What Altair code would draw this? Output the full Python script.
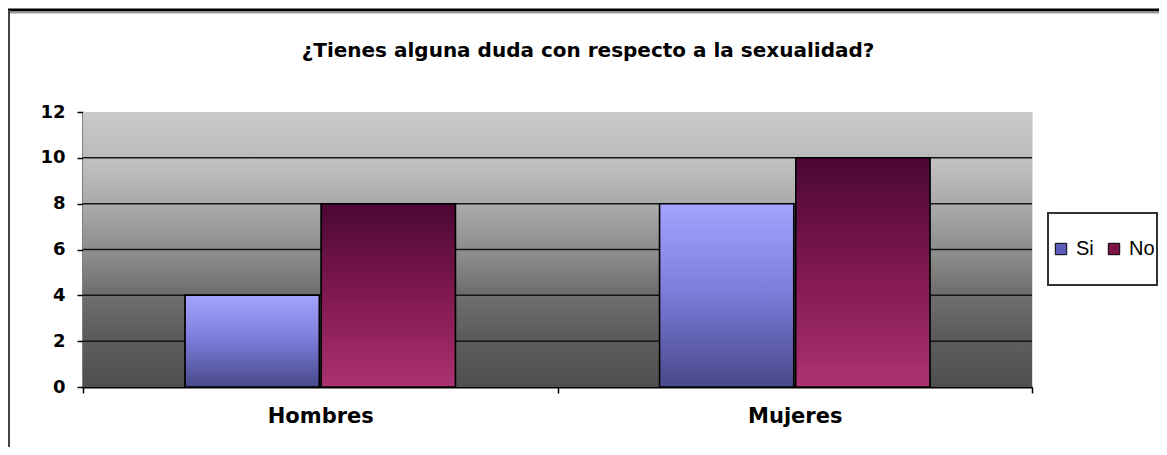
import altair as alt
import pandas as pd

# ---- data ----
grupos = ["Hombres", "Mujeres"]
series = ["Si", "No"]
si_vals = [4, 8]
no_vals = [8, 10]
y_ticks = [0, 2, 4, 6, 8, 10, 12]
grid_vals = [2, 4, 6, 8, 10]
titulo = "¿Tienes alguna duda con respecto a la sexualidad?"

rows = []
for g, s, n in zip(grupos, si_vals, no_vals):
    rows.append({"grupo": g, "serie": "Si", "valor": s})
    rows.append({"grupo": g, "serie": "No", "valor": n})
df = pd.DataFrame(rows)
bg_df = pd.DataFrame({"ymin": [min(y_ticks)], "ymax": [max(y_ticks)]})
grid_df = pd.DataFrame({"g": grid_vals})
one = pd.DataFrame({"k": [0]})
title_df = pd.DataFrame({"t": [titulo]})

W, H = 949, 275

y_scale = alt.Scale(domain=[min(y_ticks), max(y_ticks)], nice=False)
x_scale = alt.Scale(domain=grupos, paddingInner=0, paddingOuter=0)
xo_scale = alt.Scale(domain=series, paddingInner=0.015, paddingOuter=0.75)

x_axis = alt.Axis(title=None, labelFont="DejaVu Sans", labelFontWeight="bold",
                  labelFontSize=21, labelColor="black", labelAngle=0,
                  tickBand="extent", tickSize=6, tickColor="black", tickWidth=1.5,
                  domainColor="black", domainWidth=2, labelPadding=12, grid=False)
y_axis = alt.Axis(title=None, values=y_ticks, labelFont="DejaVu Sans",
                  labelFontWeight="bold", labelFontSize=18, labelColor="black",
                  tickSize=6, tickColor="black", tickWidth=1.5, domainColor="black",
                  domainWidth=2, labelPadding=12, grid=False)

bg_grad = alt.Gradient(
    gradient="linear", x1=0, y1=0, x2=0, y2=1,
    stops=[
        alt.GradientStop(offset=0.0, color="#cacaca"),
        alt.GradientStop(offset=0.165, color="#bababa"),
        alt.GradientStop(offset=0.17, color="#c2c2c2"),
        alt.GradientStop(offset=0.33, color="#aaaaaa"),
        alt.GradientStop(offset=0.335, color="#acacac"),
        alt.GradientStop(offset=0.5, color="#8c8c8c"),
        alt.GradientStop(offset=0.505, color="#909090"),
        alt.GradientStop(offset=0.665, color="#6c6c6c"),
        alt.GradientStop(offset=0.67, color="#6e6e6e"),
        alt.GradientStop(offset=0.83, color="#5a5a5a"),
        alt.GradientStop(offset=0.835, color="#5e5e5e"),
        alt.GradientStop(offset=1.0, color="#4e4e4e"),
    ],
)
si_grad = alt.Gradient(
    gradient="linear", x1=0, y1=0, x2=0, y2=1,
    stops=[alt.GradientStop(offset=0, color="#a4a4ff"),
           alt.GradientStop(offset=0.5, color="#7a7ad8"),
           alt.GradientStop(offset=1, color="#48488a")],
)
no_grad = alt.Gradient(
    gradient="linear", x1=0, y1=0, x2=0, y2=1,
    stops=[alt.GradientStop(offset=0, color="#4a0832"),
           alt.GradientStop(offset=0.5, color="#80184e"),
           alt.GradientStop(offset=1, color="#ac3272")],
)

background = alt.Chart(bg_df).mark_rect(fill=bg_grad).encode(
    x=alt.value(0), x2=alt.value("width"),
    y=alt.Y("ymax:Q", scale=y_scale, axis=y_axis), y2="ymin:Q",
)

grid = alt.Chart(grid_df).mark_rule(color="#151515", strokeWidth=1.5).encode(
    x=alt.value(0), x2=alt.value("width"),
    y=alt.Y("g:Q", scale=y_scale, axis=y_axis),
)

base_bars = alt.Chart(df).mark_bar(stroke="black", strokeWidth=1.5).encode(
    x=alt.X("grupo:N", sort=grupos, scale=x_scale, axis=x_axis),
    xOffset=alt.XOffset("serie:N", sort=series, scale=xo_scale),
    y=alt.Y("valor:Q", scale=y_scale, axis=y_axis),
    color=alt.Color("serie:N", sort=series,
                    scale=alt.Scale(domain=series, range=["#5c5cbc", "#7c1446"]),
                    legend=alt.Legend(title=None, orient="none", legendX=968, legendY=127,
                                      direction="horizontal", symbolType="square",
                                      symbolSize=130, symbolStrokeColor="black",
                                      symbolStrokeWidth=1, labelFont="Liberation Sans",
                                      labelFontSize=20, labelColor="black",
                                      columnPadding=10, labelOffset=5, padding=0)),
)

def grad_bars(name, grad):
    return alt.Chart(df).transform_filter(alt.datum.serie == name).mark_bar(
        fill=grad, stroke="black", strokeWidth=1.5
    ).encode(
        x=alt.X("grupo:N", sort=grupos, scale=x_scale, axis=x_axis),
        xOffset=alt.XOffset("serie:N", sort=series, scale=xo_scale),
        y=alt.Y("valor:Q", scale=y_scale, axis=y_axis),
    )

si_bars = grad_bars("Si", si_grad)
no_bars = grad_bars("No", no_grad)

# title as text
title_mark = alt.Chart(title_df).mark_text(
    font="DejaVu Sans", fontSize=20, fontWeight="bold", color="black",
    align="center", baseline="alphabetic"
).encode(text="t:N", x=alt.value(505), y=alt.value(-55))

# frame decorations
frame_top = alt.Chart(one).mark_rule(color="black", strokeWidth=3).encode(
    x=alt.value(-75), x2=alt.value(1076), y=alt.value(-102))
frame_shadow = alt.Chart(one).mark_rule(color="#9a9a9a", strokeWidth=2).encode(
    x=alt.value(-75), x2=alt.value(1076), y=alt.value(-99.5))
frame_left = alt.Chart(one).mark_rule(color="#444444", strokeWidth=2).encode(
    x=alt.value(-74), y=alt.value(-102), y2=alt.value(H + 70))
legend_box = alt.Chart(one).mark_rect(fill="white", fillOpacity=0, stroke="#333333",
                                      strokeWidth=2).encode(
    x=alt.value(965), x2=alt.value(1074), y=alt.value(101), y2=alt.value(173))

chart = alt.layer(
    background, grid, base_bars, si_bars, no_bars, title_mark,
    frame_top, frame_shadow, frame_left, legend_box,
).properties(
    width=W, height=H,
    autosize=alt.AutoSizeParams(type="none"),
    padding={"left": 75, "top": 104, "right": 127, "bottom": 60},
).configure_view(stroke=None).configure(background="white")

chart.save("out.html", embed_options={"renderer": "svg", "actions": False})
